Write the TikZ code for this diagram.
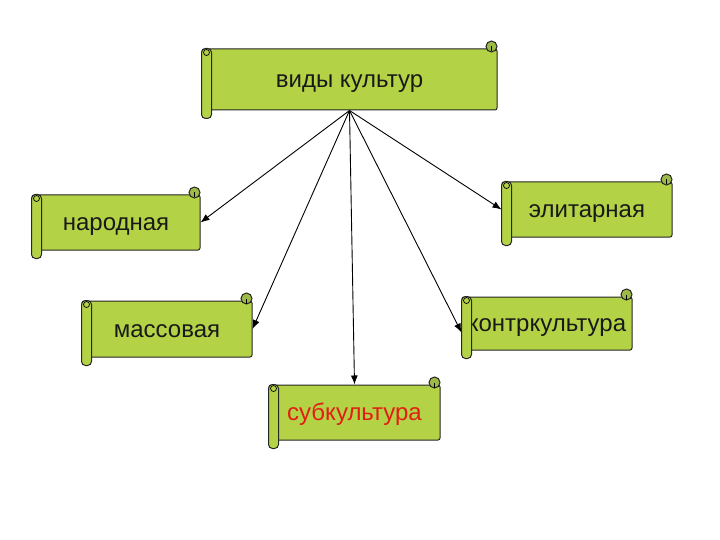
\documentclass[tikz,border=0pt]{standalone}
\usepackage{fontspec}
\setmainfont{Liberation Sans}
\usetikzlibrary{calc,arrows.meta}
\definecolor{scrollgreen}{RGB}{180,210,70}
\definecolor{curlgreen}{RGB}{158,186,70}
\definecolor{subred}{RGB}{225,30,20}
\tikzset{scroll/.style={draw=black!85, line width=1pt, fill=scrollgreen, rounded corners=2pt,
    minimum width=170pt, minimum height=55pt, inner sep=0pt, text=black!90,
    text height=21.7pt, text depth=5.1pt, font=\fontsize{24}{28}\selectfont}}
\tikzset{roll/.style={draw=black!85, line width=1pt, fill=scrollgreen, rounded corners=4pt}}
\tikzset{curl/.style={draw=black!85, line width=1pt, fill=curlgreen}}
\tikzset{link/.style={line width=0.9pt, -{Latex[length=9pt,width=7pt]}}}

\begin{document}
\begin{tikzpicture}[x=1pt,y=-1pt]
\useasboundingbox (0,0) rectangle (720,540);

\node[scroll, minimum width=295pt, minimum height=61pt] (top) at (349.5,79.5) {виды культур};
\node[scroll, minimum width=168pt] (nar) at (116,222.5) {народная};
\node[scroll] (eli) at (587,209.5) {элитарная};
\node[scroll, minimum height=56pt] (mas) at (167,329) {массовая};
\node[scroll, minimum height=53pt] (kon) at (547,323.5) {контркультура};
\node[scroll, minimum width=171pt, text=subred] (sub) at (354.5,412.5) {субкультура};

\foreach \n in {top,nar,eli,mas,kon,sub}
         {
           \filldraw[roll] (\n.north west) rectangle ($(\n.south west)+(10,8)$);
           \draw[line width=0.7pt] ($(\n.north west)+(5,4)$) circle (3pt);
           \filldraw[curl] ($(\n.north east)+(-6,-2)$) circle (5.5pt);
           \draw[line width=0.7pt] ($(\n.north east)+(-6,-2)$) -- ($(\n.north east)+(-6,3)$);
         }

\draw[link] (top.south) -- (nar.east);
\draw[link] (top.south) -- (mas.east);
\draw[link] (top.south) -- (sub.north);
\draw[link] (top.south) -- ($(kon.west)+(0,9)$);
\draw[link] (top.south) -- (eli.west);

\end{tikzpicture}
\end{document}
